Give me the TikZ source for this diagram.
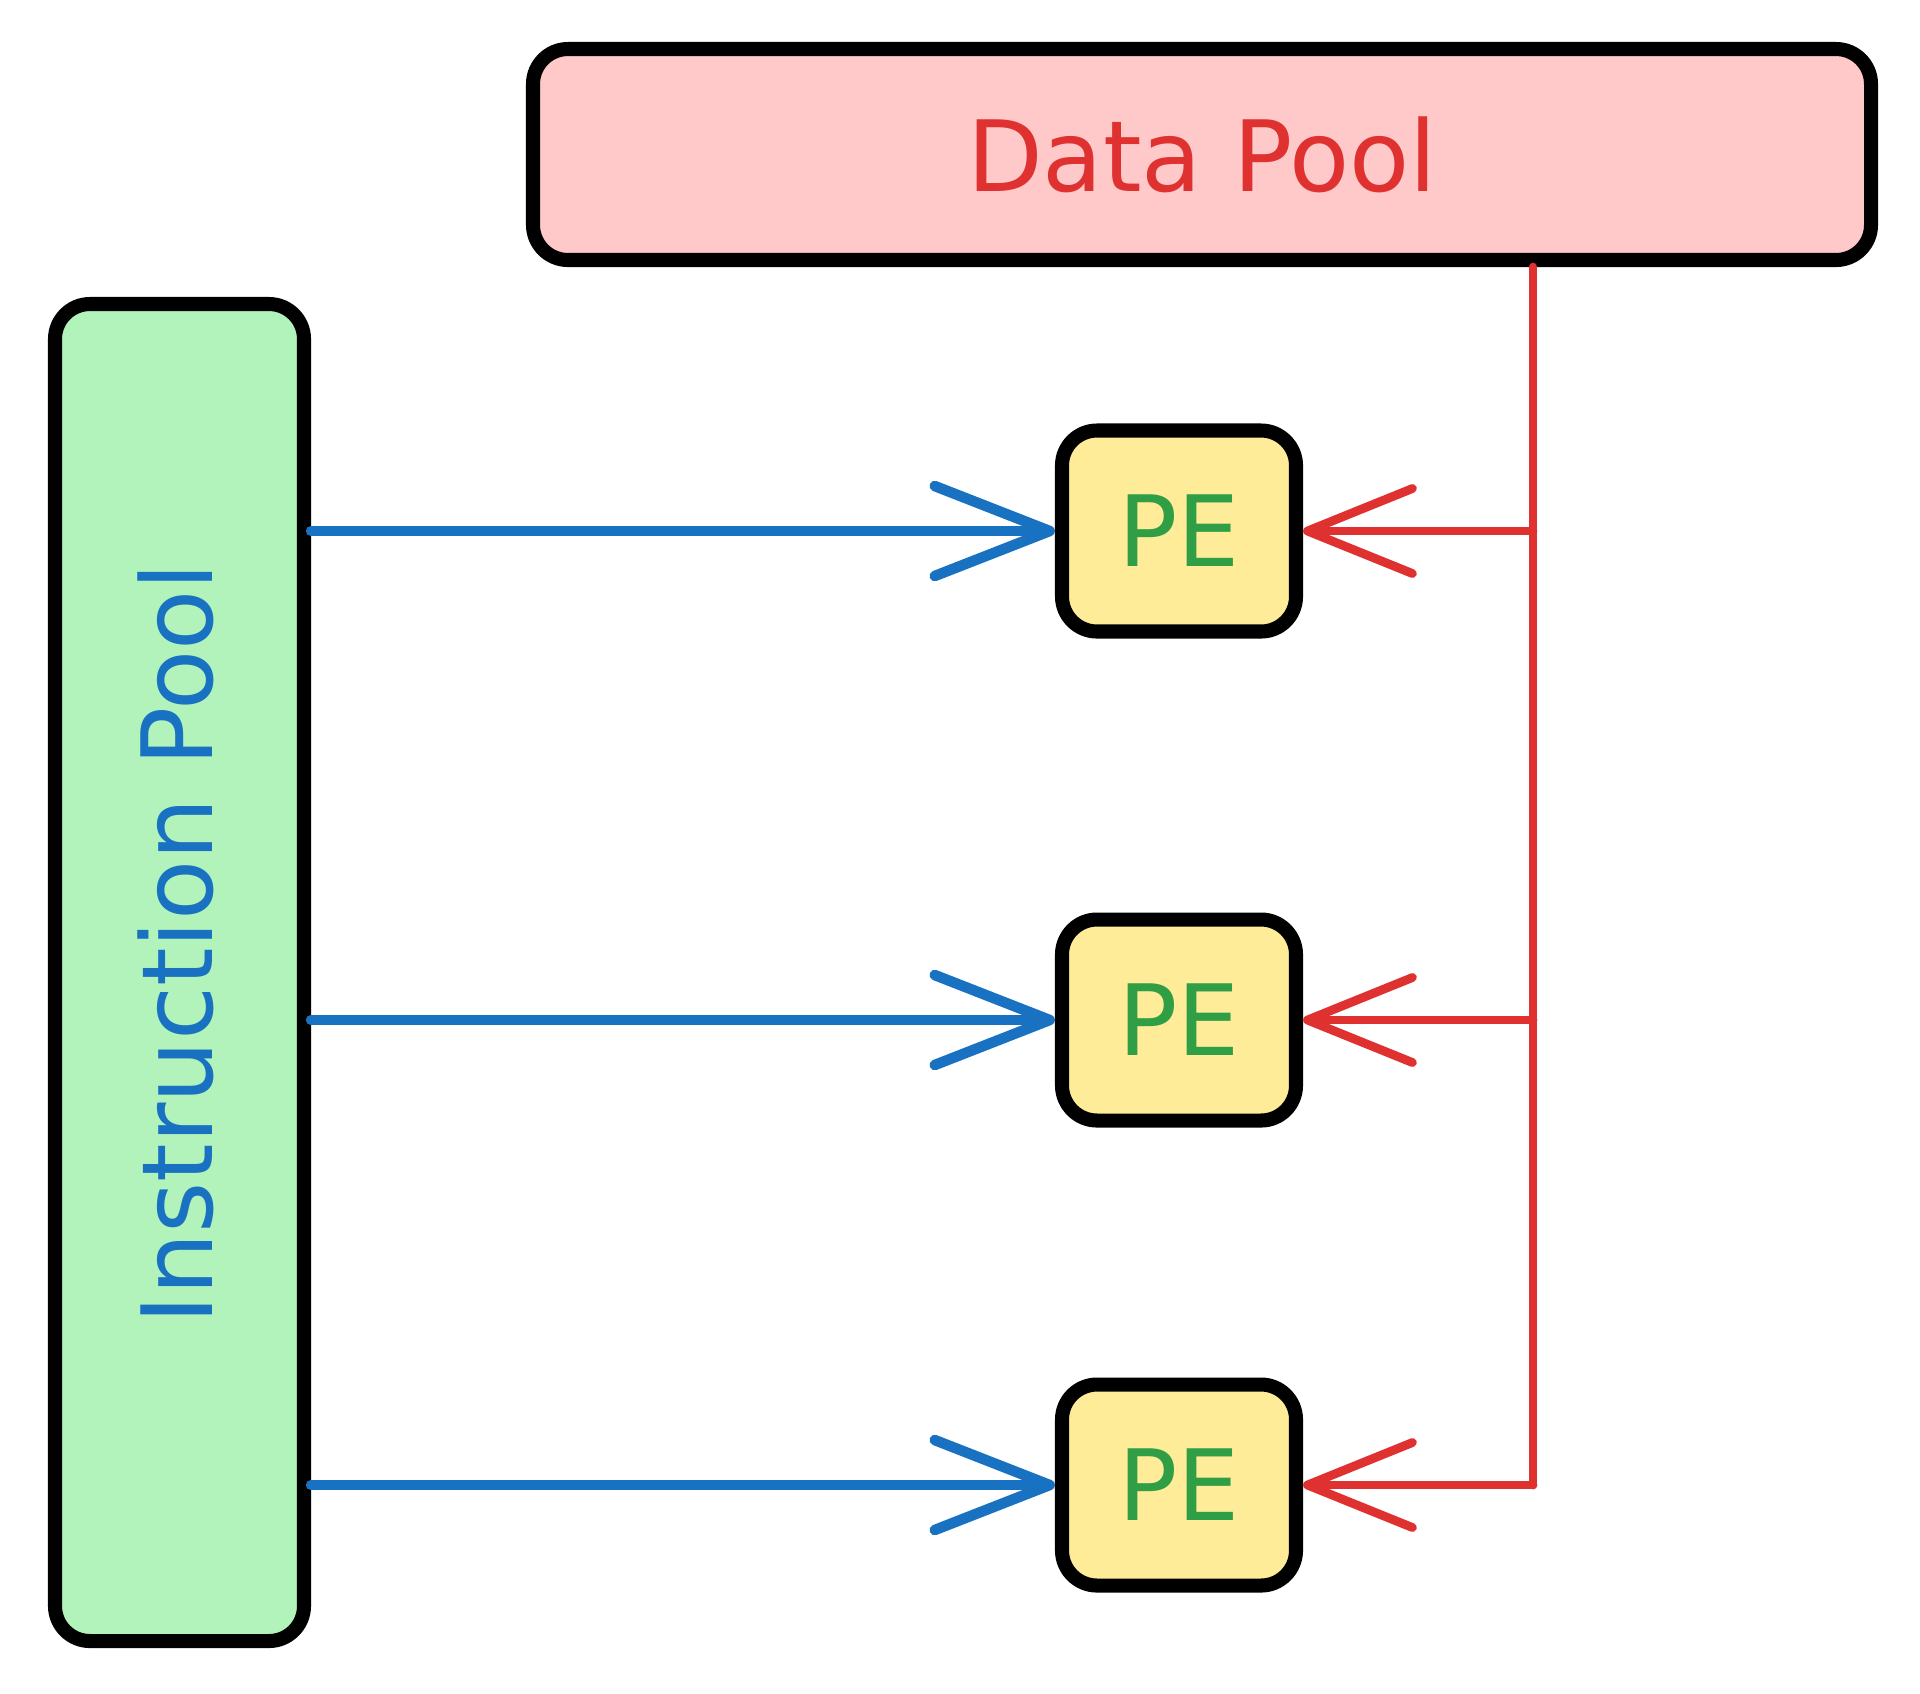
\documentclass[tikz,border=0pt]{standalone}
\usepackage{fontspec}
\setmainfont{DejaVu Sans}
\usetikzlibrary{arrows.meta}
\definecolor{dpfill}{HTML}{FFC9C9}
\definecolor{ipfill}{HTML}{B2F2BB}
\definecolor{pefill}{HTML}{FFEC99}
\definecolor{skred}{HTML}{E03131}
\definecolor{skblue}{HTML}{1971C2}
\definecolor{skgreen}{HTML}{2F9E44}
\begin{document}
\begin{tikzpicture}
    [%%%%%%%%%%%%%%%%%%%%%%%%%%%%%%
        pool/.style={rectangle,draw=black,line width=4pt,rounded corners=0.35cm,inner sep=0pt},
        pe/.style={pool,fill=pefill,minimum width=2.34cm,minimum height=2.01cm,text=skgreen,font=\fontsize{28}{34}\selectfont},
        blue arrow/.style={draw=skblue,line width=3pt,line cap=round,-{Straight Barb[length=1.15cm,width=0.9cm,round]}},
        red arrow/.style={draw=skred,line width=2.5pt,line cap=round,-{Straight Barb[length=1.05cm,width=0.85cm,round]}}
    ]%%%%%%%%%%%%%%%%%%%%%%%%%%%%%%

\useasboundingbox (0,0) rectangle (19.2,-16.93);

\node[pool,fill=dpfill,minimum width=13.38cm,minimum height=2.11cm,text=skred,font=\fontsize{28}{34}\selectfont] (dp) at (12.02,-1.545) {Data Pool};

\node[pool,fill=ipfill,minimum width=2.49cm,minimum height=13.37cm] (ip) at (1.795,-9.725) {};
\node[rotate=90,text=skblue,font=\fontsize{28}{34}\selectfont] (iplabel) at (1.76,-9.44) {Instruction Pool};

\coordinate (busx) at (15.33,0);

\foreach \i/\y in {1/5.31,2/10.20,3/14.85}{
    \node[pe] (pe\i) at (11.79,-\y) {PE};
    \coordinate (tap\i) at (pe\i -| busx);
    \draw[blue arrow] (pe\i -| ip.east) -- (pe\i.west);
    \draw[red arrow] (tap\i) -- (pe\i.east);
}

\draw[skred,line width=2.5pt,line cap=round] (dp.south -| busx) -- (tap3);

\end{tikzpicture}
\end{document}
